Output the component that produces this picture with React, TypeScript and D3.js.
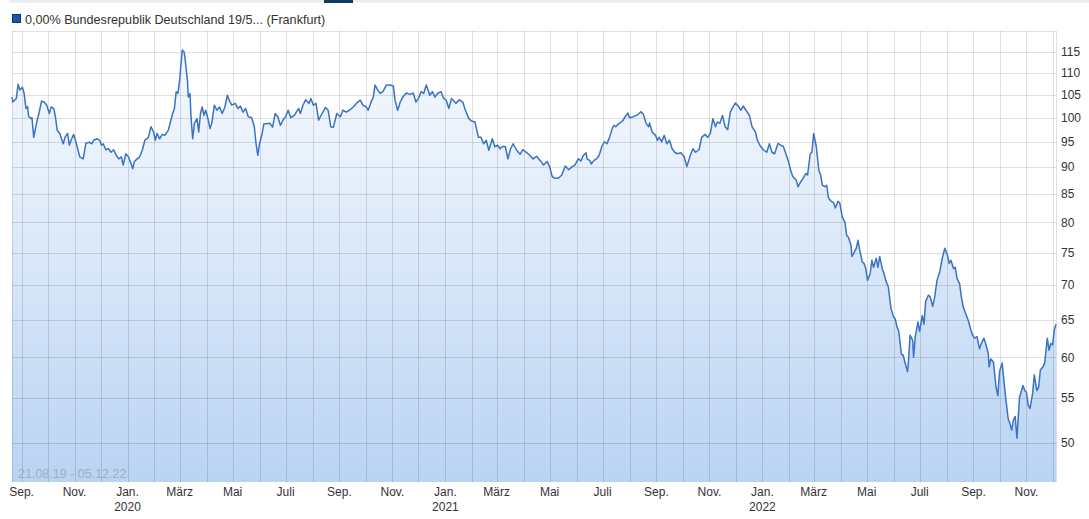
import React from "react";
import * as d3 from "d3";

const seriesName = "0,00% Bundesrepublik Deutschland 19/5... (Frankfurt)";
const rangeLabel = "21.08.19 - 05.12.22";
const startDate = "2019-08-21";
const endDate = "2022-12-05";
const yTicks = [50, 55, 60, 65, 70, 75, 80, 85, 90, 95, 100, 105, 110, 115];
const yDomain = [46, 120.3];
const monthNames = ["Jan.", "Feb.", "März", "April", "Mai", "Juni", "Juli", "Aug.", "Sep.", "Okt.", "Nov.", "Dez."];

const prices: [string, number][] = [
  ["2019-08-21",104.5],["2019-08-22",103.4],["2019-08-26",104.2],["2019-08-28",107.4],["2019-08-30",106.1],
  ["2019-09-02",106.7],["2019-09-04",105.3],["2019-09-06",102.0],["2019-09-08",102.4],["2019-09-09",100.3],
  ["2019-09-12",99.8],["2019-09-13",100.0],["2019-09-15",95.9],["2019-09-17",97.7],["2019-09-19",99.5],
  ["2019-09-21",100.9],["2019-09-24",103.6],["2019-09-27",103.4],["2019-09-30",102.7],["2019-10-03",100.9],
  ["2019-10-05",102.3],["2019-10-08",102.0],["2019-10-10",100.2],["2019-10-12",97.4],["2019-10-15",96.7],
  ["2019-10-17",95.6],["2019-10-19",94.6],["2019-10-21",95.9],["2019-10-24",96.7],["2019-10-26",94.3],
  ["2019-10-28",95.3],["2019-10-31",96.5],["2019-11-02",95.3],["2019-11-04",94.0],["2019-11-07",92.0],
  ["2019-11-11",91.6],["2019-11-14",94.7],["2019-11-18",94.9],["2019-11-21",94.6],["2019-11-23",95.3],
  ["2019-11-27",95.6],["2019-11-30",95.3],["2019-12-02",94.3],["2019-12-04",94.6],["2019-12-07",93.4],
  ["2019-12-10",93.6],["2019-12-13",92.9],["2019-12-16",93.4],["2019-12-19",92.3],["2019-12-22",91.6],
  ["2019-12-25",92.0],["2019-12-27",90.4],["2019-12-30",92.6],
  ["2020-01-02",92.0],["2020-01-05",90.7],["2020-01-07",89.7],["2020-01-09",91.1],["2020-01-12",91.6],
  ["2020-01-15",92.0],["2020-01-18",93.3],["2020-01-21",95.3],["2020-01-25",95.9],["2020-01-28",98.1],
  ["2020-01-31",97.0],["2020-02-02",95.3],["2020-02-04",96.7],["2020-02-07",95.6],["2020-02-10",96.5],
  ["2020-02-13",96.3],["2020-02-17",97.4],["2020-02-20",99.5],["2020-02-22",100.9],["2020-02-24",102.0],
  ["2020-02-26",105.7],["2020-02-28",105.3],["2020-03-01",108.3],["2020-03-04",115.5],["2020-03-06",115.1],
  ["2020-03-07",113.9],["2020-03-10",108.3],["2020-03-11",104.5],["2020-03-13",105.3],["2020-03-14",100.5],
  ["2020-03-16",95.6],["2020-03-18",98.8],["2020-03-21",99.8],["2020-03-23",97.0],["2020-03-25",100.9],
  ["2020-03-27",102.3],["2020-03-29",100.5],["2020-03-31",101.6],["2020-04-03",99.5],["2020-04-05",97.7],
  ["2020-04-07",98.8],["2020-04-10",102.7],["2020-04-13",101.6],["2020-04-16",102.3],["2020-04-19",100.9],
  ["2020-04-22",102.2],["2020-04-25",104.9],["2020-04-27",103.8],["2020-04-30",102.7],["2020-05-04",103.1],
  ["2020-05-07",102.0],["2020-05-10",102.5],["2020-05-13",101.2],["2020-05-16",102.0],["2020-05-19",100.2],
  ["2020-05-23",100.0],["2020-05-26",98.1],["2020-05-28",94.6],["2020-05-30",92.3],["2020-06-01",94.6],
  ["2020-06-04",96.7],["2020-06-06",98.7],["2020-06-09",98.7],["2020-06-13",98.8],["2020-06-16",98.0],
  ["2020-06-19",100.9],["2020-06-22",100.2],["2020-06-25",98.4],["2020-06-28",99.5],["2020-07-01",100.2],
  ["2020-07-04",101.6],["2020-07-07",100.0],["2020-07-11",100.5],["2020-07-16",102.0],["2020-07-18",100.9],
  ["2020-07-21",102.7],["2020-07-24",103.9],["2020-07-28",103.1],["2020-07-30",104.2],["2020-08-02",102.7],
  ["2020-08-05",103.1],["2020-08-08",99.5],["2020-08-12",100.9],["2020-08-16",102.2],["2020-08-19",101.6],
  ["2020-08-22",98.1],["2020-08-25",98.0],["2020-08-29",100.9],["2020-09-02",100.2],["2020-09-05",101.6],
  ["2020-09-09",101.2],["2020-09-13",101.7],["2020-09-17",102.3],["2020-09-21",103.2],["2020-09-25",103.8],
  ["2020-09-28",102.7],["2020-10-02",102.3],["2020-10-04",101.6],["2020-10-07",103.2],["2020-10-10",104.5],
  ["2020-10-12",107.2],["2020-10-15",106.1],["2020-10-18",105.3],["2020-10-21",105.7],["2020-10-25",107.2],
  ["2020-10-29",107.2],["2020-11-02",107.0],["2020-11-04",103.8],["2020-11-07",101.6],["2020-11-10",103.4],
  ["2020-11-13",104.5],["2020-11-17",105.4],["2020-11-21",105.1],["2020-11-25",105.4],["2020-11-28",103.4],
  ["2020-12-01",104.2],["2020-12-04",105.7],["2020-12-07",105.3],["2020-12-10",107.2],["2020-12-12",106.1],
  ["2020-12-14",104.9],["2020-12-17",105.7],["2020-12-20",104.5],["2020-12-23",105.3],["2020-12-27",105.7],
  ["2020-12-30",104.2],
  ["2021-01-02",103.8],["2021-01-05",102.0],["2021-01-08",104.2],["2021-01-10",103.8],["2021-01-13",103.1],
  ["2021-01-17",103.9],["2021-01-21",103.4],["2021-01-24",101.6],["2021-01-28",99.8],["2021-01-31",99.3],
  ["2021-02-04",99.1],["2021-02-08",95.9],["2021-02-11",95.9],["2021-02-14",94.6],["2021-02-17",95.3],
  ["2021-02-20",93.3],["2021-02-24",95.6],["2021-02-27",94.0],["2021-03-02",94.3],["2021-03-05",93.6],
  ["2021-03-08",94.1],["2021-03-11",94.0],["2021-03-14",91.6],["2021-03-17",93.6],["2021-03-20",94.6],
  ["2021-03-24",93.3],["2021-03-28",92.5],["2021-03-31",93.4],["2021-04-05",92.8],["2021-04-08",92.3],
  ["2021-04-12",91.6],["2021-04-16",92.1],["2021-04-20",91.3],["2021-04-24",90.4],["2021-04-28",91.1],
  ["2021-05-01",90.1],["2021-05-04",88.2],["2021-05-07",87.9],["2021-05-11",87.9],["2021-05-15",88.5],
  ["2021-05-19",90.2],["2021-05-23",89.5],["2021-05-27",90.1],["2021-05-30",90.4],["2021-06-03",91.6],
  ["2021-06-06",91.2],["2021-06-09",92.3],["2021-06-12",92.8],["2021-06-13",91.6],["2021-06-16",91.3],
  ["2021-06-18",90.6],["2021-06-21",91.3],["2021-06-24",91.6],["2021-06-27",92.3],["2021-06-30",94.0],
  ["2021-07-03",95.0],["2021-07-06",94.6],["2021-07-09",95.9],["2021-07-12",97.7],["2021-07-14",98.4],
  ["2021-07-16",98.1],["2021-07-20",98.8],["2021-07-24",99.3],["2021-07-27",100.2],["2021-07-30",101.0],
  ["2021-08-01",100.0],["2021-08-05",100.2],["2021-08-09",100.5],["2021-08-12",100.9],["2021-08-14",101.3],
  ["2021-08-17",100.7],["2021-08-20",98.8],["2021-08-23",98.1],["2021-08-24",98.9],["2021-08-27",97.0],
  ["2021-08-31",96.3],["2021-09-02",95.3],["2021-09-04",95.9],["2021-09-07",95.0],["2021-09-10",96.3],
  ["2021-09-13",94.6],["2021-09-16",95.3],["2021-09-19",93.6],["2021-09-22",92.9],["2021-09-25",92.6],
  ["2021-09-29",92.8],["2021-10-03",92.0],["2021-10-06",90.1],["2021-10-10",92.3],["2021-10-13",93.6],
  ["2021-10-16",92.9],["2021-10-20",93.4],["2021-10-23",95.9],["2021-10-27",96.5],["2021-10-30",95.9],
  ["2021-11-02",96.7],["2021-11-05",99.8],["2021-11-08",98.1],["2021-11-10",99.1],["2021-11-13",98.8],
  ["2021-11-16",100.5],["2021-11-19",98.1],["2021-11-22",97.5],["2021-11-25",101.2],["2021-11-28",102.3],
  ["2021-12-01",103.2],["2021-12-05",102.3],["2021-12-07",101.6],["2021-12-10",102.5],["2021-12-13",101.6],
  ["2021-12-17",100.5],["2021-12-20",98.1],["2021-12-24",97.0],["2021-12-26",95.4],["2021-12-29",94.3],
  ["2022-01-02",93.4],["2022-01-06",92.9],["2022-01-09",94.6],["2022-01-12",92.9],["2022-01-15",92.6],
  ["2022-01-19",94.7],["2022-01-22",94.3],["2022-01-25",94.1],["2022-01-28",92.6],["2022-01-31",91.1],
  ["2022-02-03",89.1],["2022-02-05",88.2],["2022-02-09",87.5],["2022-02-11",86.3],["2022-02-14",87.2],
  ["2022-02-17",87.9],["2022-02-20",88.8],["2022-02-22",88.5],["2022-02-25",92.6],["2022-02-27",92.9],
  ["2022-03-01",96.7],["2022-03-04",94.0],["2022-03-07",89.4],["2022-03-09",88.5],["2022-03-11",86.6],
  ["2022-03-14",86.3],["2022-03-16",86.6],["2022-03-18",84.3],["2022-03-21",83.7],["2022-03-24",83.4],
  ["2022-03-26",82.5],["2022-03-29",83.7],["2022-03-31",83.4],["2022-04-03",80.9],["2022-04-06",80.0],
  ["2022-04-08",77.8],["2022-04-10",77.5],["2022-04-13",76.2],["2022-04-14",74.4],["2022-04-16",74.9],
  ["2022-04-19",75.7],["2022-04-21",77.0],["2022-04-23",75.4],["2022-04-26",73.5],["2022-04-28",73.3],
  ["2022-04-30",72.5],["2022-05-02",70.7],["2022-05-05",71.7],["2022-05-07",73.8],["2022-05-09",72.7],
  ["2022-05-12",74.1],["2022-05-14",72.7],["2022-05-16",74.4],["2022-05-19",72.5],["2022-05-21",71.7],
  ["2022-05-23",70.7],["2022-05-26",69.7],["2022-05-29",66.6],["2022-06-01",65.4],["2022-06-03",65.1],
  ["2022-06-05",64.0],["2022-06-07",63.4],["2022-06-10",60.4],["2022-06-12",60.3],["2022-06-14",59.4],
  ["2022-06-17",58.2],["2022-06-18",59.3],["2022-06-20",62.9],["2022-06-23",62.2],["2022-06-24",60.0],
  ["2022-06-26",62.7],["2022-06-29",64.7],["2022-07-01",63.4],["2022-07-04",65.6],["2022-07-06",64.4],
  ["2022-07-08",67.6],["2022-07-11",68.5],["2022-07-13",68.3],["2022-07-16",66.9],["2022-07-18",68.0],
  ["2022-07-21",70.7],["2022-07-24",71.9],["2022-07-27",74.1],["2022-07-30",75.7],["2022-08-02",74.6],
  ["2022-08-04",73.3],["2022-08-06",73.8],["2022-08-09",72.5],["2022-08-11",72.7],["2022-08-13",71.0],
  ["2022-08-16",70.2],["2022-08-18",68.3],["2022-08-20",66.9],["2022-08-22",66.2],["2022-08-26",64.9],
  ["2022-08-29",63.6],["2022-08-31",62.9],["2022-09-02",62.5],["2022-09-05",62.7],["2022-09-08",61.1],
  ["2022-09-10",61.8],["2022-09-13",62.5],["2022-09-15",61.8],["2022-09-18",60.5],["2022-09-19",58.8],
  ["2022-09-21",59.8],["2022-09-24",59.4],["2022-09-27",56.3],["2022-09-29",55.3],["2022-10-01",58.2],
  ["2022-10-04",59.3],["2022-10-06",57.1],["2022-10-08",55.1],["2022-10-11",52.6],["2022-10-13",52.1],
  ["2022-10-15",51.4],["2022-10-17",52.5],["2022-10-19",52.9],["2022-10-21",50.5],["2022-10-24",55.1],
  ["2022-10-28",56.5],["2022-10-30",55.9],["2022-11-01",55.7],["2022-11-03",54.2],["2022-11-05",53.8],
  ["2022-11-08",55.5],["2022-11-10",57.8],["2022-11-13",55.9],["2022-11-15",56.3],["2022-11-17",58.4],
  ["2022-11-20",58.8],["2022-11-22",59.3],["2022-11-25",62.5],["2022-11-27",60.9],["2022-11-29",61.8],
  ["2022-12-01",61.6],["2022-12-03",63.6],["2022-12-05",64.4],
];

const W = 1089;
const H = 519;
const M = { left: 12, right: 1056, top: 31, bottom: 482 };
const FONT = "'Liberation Sans', Arial, Helvetica, sans-serif";

export default function App() {
  const parse = d3.timeParse("%Y-%m-%d");
  const data = prices.map(([d, v]) => ({ date: parse(d) as Date, value: v }));
  const x = d3.scaleTime().domain([parse(startDate) as Date, parse(endDate) as Date]).range([M.left, M.right]);
  const y = d3.scaleLog().domain(yDomain).range([M.bottom, M.top]);

  const area = d3.area<{ date: Date; value: number }>()
    .x((d) => x(d.date)).y0(M.bottom).y1((d) => y(d.value));
  const line = d3.line<{ date: Date; value: number }>()
    .x((d) => x(d.date)).y((d) => y(d.value));

  const [d0, d1] = x.domain();
  const months = d3.timeMonth.range(d3.timeMonth.ceil(d0), d1);
  const labelMonths = months.filter((m) => m.getMonth() % 2 === 0);
  const snap = (v: number) => Math.round(v) + 0.5;

  return (
    <svg width={W} height={H} style={{ position: "absolute", left: 0, top: 0, background: "#fff" }} fontFamily={FONT}>
      <defs>
        <linearGradient id="fillGrad" gradientUnits="userSpaceOnUse" x1={0} y1={M.top} x2={0} y2={M.bottom}>
          <stop offset="0%" stopColor="#f6f9fe" />
          <stop offset="25%" stopColor="#eaf2fc" />
          <stop offset="100%" stopColor="#b9d3f3" />
        </linearGradient>
      </defs>
      <rect x={9} y={0} width={W - 9} height={2.5} fill="#e8ecef" />
      <rect x={324} y={0} width={29} height={3} fill="#0f3c60" />

      <rect x={12.5} y={14.5} width={8} height={8} fill="#1c57a6" stroke="#0e3569" strokeWidth={1} />
      <text x={25} y={23.5} fontSize={12.6} fill="#333">{seriesName}</text>

      <path d={area(data) || ""} fill="url(#fillGrad)" />

      <g stroke="#000" strokeOpacity={0.12} strokeWidth={1}>
        {yTicks.map((t) => (
          <line key={"h" + t} x1={M.left} x2={M.right} y1={snap(y(t))} y2={snap(y(t))} />
        ))}
        {months.map((m) => (
          <line key={"v" + m.getTime()} x1={snap(x(m))} x2={snap(x(m))} y1={M.top} y2={M.bottom} />
        ))}
        <line x1={M.left} x2={M.right} y1={M.top + 0.5} y2={M.top + 0.5} />
        <line x1={M.left + 0.5} x2={M.left + 0.5} y1={M.top} y2={M.bottom} />
        <line x1={M.right + 0.5} x2={M.right + 0.5} y1={M.top} y2={M.bottom} />
      </g>

      <path d={line(data) || ""} fill="none" stroke="#3a73c2" strokeWidth={1.5} strokeLinejoin="round" />

      <text x={18} y={478} fontSize={12.5} fill="#a3aebc">{rangeLabel}</text>

      <g fontSize={12} fill="#333">
        {yTicks.map((t) => (
          <text key={"yl" + t} x={1061} y={y(t)} dy="0.35em">{t}</text>
        ))}
      </g>

      <g fontSize={12} fill="#333" textAnchor="middle">
        {labelMonths.map((m) => (
          <g key={"xl" + m.getTime()}>
            <text x={x(m)} y={496}>{monthNames[m.getMonth()]}</text>
            {m.getMonth() === 0 && <text x={x(m)} y={511}>{m.getFullYear()}</text>}
          </g>
        ))}
      </g>
    </svg>
  );
}
